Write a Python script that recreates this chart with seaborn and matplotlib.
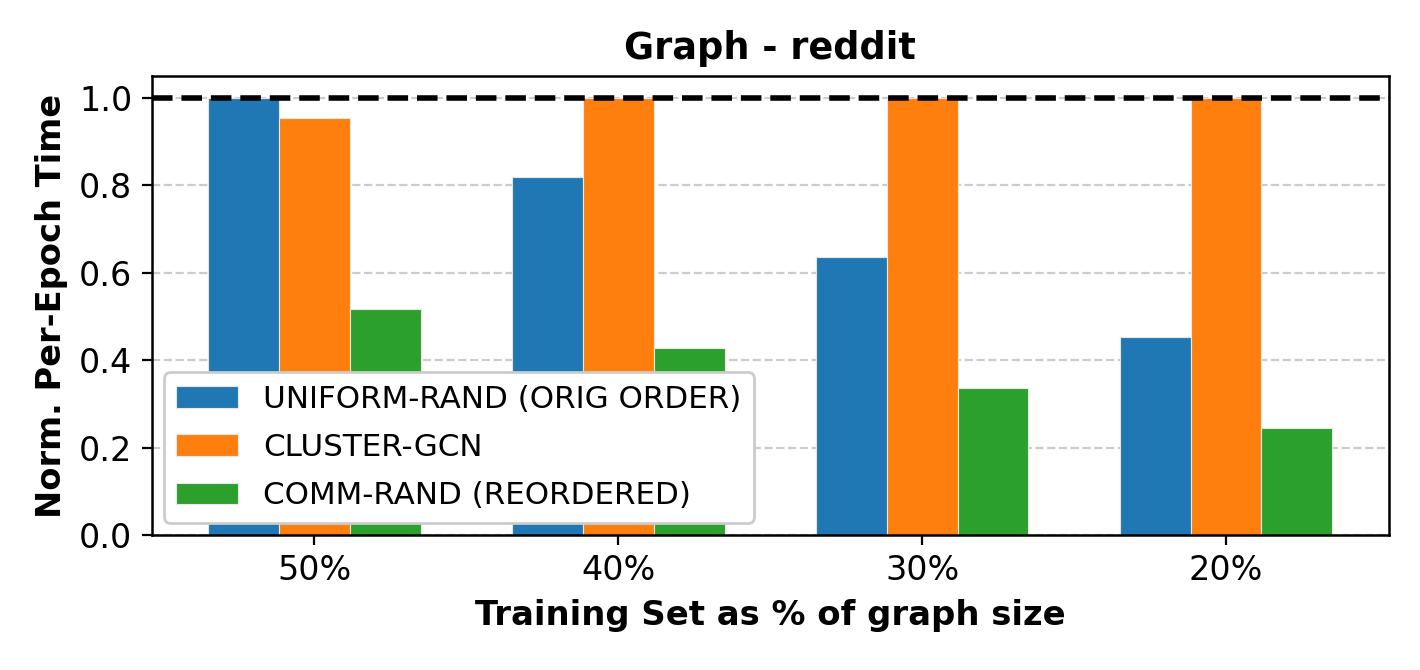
import matplotlib
matplotlib.use("Agg")
import matplotlib.pyplot as plt
import seaborn as sns
import pandas as pd

categories = ["50%", "40%", "30%", "20%"]
series_names = ["UNIFORM-RAND (ORIG ORDER)", "CLUSTER-GCN", "COMM-RAND (REORDERED)"]
uniform_rand = [1.0, 0.818, 0.637, 0.453]
cluster_gcn = [0.955, 1.0, 1.0, 1.0]
comm_rand = [0.518, 0.428, 0.337, 0.244]
colors = ["#1f77b4", "#ff7f0e", "#2ca02c"]

rows = []
for name, vals in zip(series_names, [uniform_rand, cluster_gcn, comm_rand]):
    for c, v in zip(categories, vals):
        rows.append({"cat": c, "series": name, "val": v})
df = pd.DataFrame(rows)

plt.rcParams['font.family'] = ['DejaVu Sans']

fig = plt.figure(figsize=(7.1, 3.35), dpi=200)
ax = fig.add_axes([0.1068, 0.2015, 0.8715, 0.685])
sns.barplot(data=df, x="cat", y="val", hue="series", order=categories,
            hue_order=series_names, palette=colors, width=0.7, gap=0,
            saturation=1, edgecolor="#e8e8e8", linewidth=0.4, ax=ax, errorbar=None)
ax.axhline(1.0, color="black", linestyle="--", linewidth=2, zorder=5)
ax.set_axisbelow(True)
ax.yaxis.grid(True, linestyle="--", color="#cccccc", linewidth=0.8)
ax.set_ylim(0, 1.05)
ax.set_xlim(-0.535, 3.537)
ax.set_yticks([0.0, 0.2, 0.4, 0.6, 0.8, 1.0])
ax.tick_params(axis="both", labelsize=12, colors="black")
for s in ax.spines.values():
    s.set_visible(True)
    s.set_color("black")
    s.set_linewidth(0.9)
ax.set_title("Graph - reddit", fontsize=13.2, fontweight="bold", color="black")
ax.set_xlabel("Training Set as % of graph size", fontsize=12.2, fontweight="bold", color="black")
ax.set_ylabel("Norm. Per-Epoch Time", fontsize=12.1, fontweight="bold", color="black")
ax.legend(loc="lower left", fontsize=11.15, title=None, frameon=True,
          framealpha=1, labelspacing=0.62, borderaxespad=0.4)
fig.savefig("out.png", dpi=200)
